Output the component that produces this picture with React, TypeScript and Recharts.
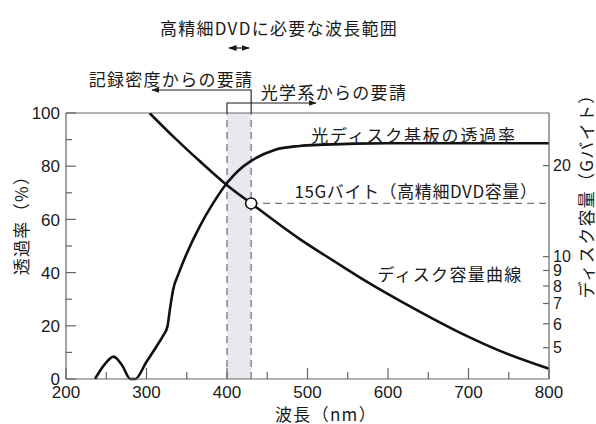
import React from 'react';
import {
  ComposedChart,
  Line,
  XAxis,
  YAxis,
  ReferenceArea,
  ReferenceLine,
  ReferenceDot
} from 'recharts';

// transmittance of the disk substrate (%)
const TRANS_NM = [236, 248, 259, 270, 280, 286, 300, 313, 321, 326, 329, 333, 340, 350, 366, 383, 400, 415, 430, 460, 490, 520, 560, 600, 700, 800];
const TRANS_PCT = [0, 5.5, 8.4, 5, 0, 0, 6.5, 12.5, 16.5, 19.7, 26, 33.5, 39.7, 47.2, 57.3, 66.2, 73.7, 78.6, 82.0, 86.2, 87.6, 88.1, 88.5, 88.6, 88.6, 88.6];

// disk capacity curve (G byte)
const CAP_NM = [304, 335, 366, 397, 430, 490, 532, 573, 615, 656, 697, 739, 800];
const CAP_G = [29.8, 24.7, 20.7, 17.5, 15.0, 11.45, 9.7, 8.28, 7.14, 6.23, 5.48, 4.88, 4.26];

const X_TICKS = [200, 250, 300, 350, 400, 450, 500, 550, 600, 650, 700, 750, 800];
const LEFT_TICKS = [0, 10, 20, 30, 40, 50, 60, 70, 80, 90, 100];
const RIGHT_TICKS = [5, 6, 7, 8, 9, 10, 20];

const BAND = [400, 430];
const DVD_CAP = 15;

const W = 596;
const H = 424;
const PLOT = { left: 66, right: 549, top: 113, bottom: 379 };
const X_DOMAIN = [200, 800];

const transData = TRANS_NM.map((x, i) => ({ x, v: TRANS_PCT[i] }));
const capData = CAP_NM.map((x, i) => ({ x, v: CAP_G[i] }));

const nmToPx = (nm: number) =>
  PLOT.left + ((nm - X_DOMAIN[0]) / (X_DOMAIN[1] - X_DOMAIN[0])) * (PLOT.right - PLOT.left);

const NUM_FONT = '"Liberation Sans", Arial, sans-serif';
const JP_FONT = '"Noto Sans CJK JP", "Noto Sans", sans-serif';
const AXIS = '#666';
const INK = '#1a1a1a';

const LeftTick = ({ x, y, payload }: any) => {
  const major = payload.value % 20 === 0;
  return (
    <g>
      <line x1={x} x2={x + (major ? 10 : 6)} y1={y} y2={y} stroke={AXIS} strokeWidth={1.2} />
      {major && (
        <text x={x - 6} y={y} dy="0.36em" textAnchor="end" fontSize={17} fontFamily={NUM_FONT} fill={INK}>
          {payload.value}
        </text>
      )}
    </g>
  );
};

const BottomTick = ({ x, y, payload }: any) => {
  const major = payload.value % 100 === 0;
  return (
    <g>
      <line x1={x} x2={x} y1={y} y2={y - (major ? 11 : 7)} stroke={AXIS} strokeWidth={1.2} />
      {major && (
        <text x={x} y={y + 6} dy="0.75em" textAnchor="middle" fontSize={17} fontFamily={NUM_FONT} fill={INK}>
          {payload.value}
        </text>
      )}
    </g>
  );
};

const RightTick = ({ x, y, payload }: any) => (
  <g>
    <line x1={x} x2={x - 6} y1={y} y2={y} stroke={AXIS} strokeWidth={1.2} />
    <text x={x + 4} y={y} dy="0.36em" textAnchor="start" fontSize={16} fontFamily={NUM_FONT} fill={INK}>
      {payload.value}
    </text>
  </g>
);

const jp = { fontFamily: JP_FONT, fontSize: 17, fill: INK, letterSpacing: 1.3 } as const;

const Annotations = () => {
  const xA = nmToPx(BAND[0]);
  const xB = nmToPx(BAND[1]);
  return (
    <svg width={W} height={H} style={{ position: 'absolute', left: 0, top: 0, pointerEvents: 'none' }}>
      <defs>
        <marker id="ah" viewBox="0 0 10 10" refX="9" refY="5" markerWidth="7" markerHeight="7" orient="auto-start-reverse">
          <path d="M0,1.5 L10,5 L0,8.5 z" fill={INK} />
        </marker>
      </defs>
      <text x={279} y={27} dominantBaseline="central" textAnchor="middle" {...jp}>
        高精細DVDに必要な波長範囲
      </text>
      <line x1={xA + 2} x2={xB - 2} y1={48} y2={48} stroke={INK} strokeWidth={1.2} markerStart="url(#ah)" markerEnd="url(#ah)" />

      <text x={171} y={78} dominantBaseline="central" textAnchor="middle" {...jp}>
        記録密度からの要請
      </text>
      <polyline points={`${xB},${PLOT.top} ${xB},90 152,90`} fill="none" stroke={INK} strokeWidth={1.1} markerEnd="url(#ah)" />

      <text x={334} y={91} dominantBaseline="central" textAnchor="middle" {...jp}>
        光学系からの要請
      </text>
      <polyline points={`${xA},${PLOT.top} ${xA},103 316,103`} fill="none" stroke={INK} strokeWidth={1.1} markerEnd="url(#ah)" />

      <text x={414} y={134} dominantBaseline="central" textAnchor="middle" {...jp} letterSpacing={1.8}>
        光ディスク基板の透過率
      </text>
      <text x={416} y={190} dominantBaseline="central" textAnchor="middle" {...jp} letterSpacing={0.6}>
        15Gバイト（高精細DVD容量）
      </text>
      <text x={450} y={273} dominantBaseline="central" textAnchor="middle" {...jp}>
        ディスク容量曲線
      </text>

      <text x={326} y={413} dominantBaseline="central" textAnchor="middle" {...jp}>
        波長（nm）
      </text>
      <text transform="translate(20,221) rotate(-90)" dominantBaseline="central" textAnchor="middle" {...jp}>
        透過率（%）
      </text>
      <text transform="translate(585,192) rotate(-90)" dominantBaseline="central" textAnchor="middle" {...jp}>
        ディスク容量（Gバイト）
      </text>
    </svg>
  );
};

export default function App() {
  return (
    <div style={{ position: 'relative', width: W, height: H, background: '#fff' }}>
      <style>{'body{margin:0;}'}</style>
      <ComposedChart width={W} height={H} margin={{ top: PLOT.top, right: 0, bottom: 0, left: 0 }}>
        <XAxis
          dataKey="x"
          type="number"
          domain={X_DOMAIN}
          ticks={X_TICKS}
          height={H - PLOT.bottom}
          tickSize={0}
          tickMargin={0}
          tickLine={false}
          tick={<BottomTick />}
          axisLine={{ stroke: AXIS, strokeWidth: 1.2 }}
          allowDataOverflow
        />
        <YAxis
          yAxisId="left"
          domain={[0, 100]}
          ticks={LEFT_TICKS}
          width={PLOT.left}
          tickSize={0}
          tickMargin={0}
          tickLine={false}
          tick={<LeftTick />}
          axisLine={{ stroke: AXIS, strokeWidth: 1.2 }}
          interval={0}
        />
        <YAxis
          yAxisId="right"
          orientation="right"
          scale="log"
          domain={[3.94, 29.85]}
          ticks={RIGHT_TICKS}
          width={W - PLOT.right}
          tickSize={0}
          tickMargin={0}
          tickLine={false}
          tick={<RightTick />}
          axisLine={{ stroke: AXIS, strokeWidth: 1.2 }}
          interval={0}
          allowDataOverflow
        />
        <ReferenceArea
          yAxisId="left"
          x1={BAND[0]}
          x2={BAND[1]}
          y1={0}
          y2={100}
          fill="#e7e9ee"
          fillOpacity={1}
          stroke="none"
        />
        <ReferenceLine yAxisId="left" x={BAND[0]} stroke="#777" strokeWidth={1.3} strokeDasharray="7 5" />
        <ReferenceLine yAxisId="left" x={BAND[1]} stroke="#777" strokeWidth={1.3} strokeDasharray="7 5" />
        <ReferenceLine yAxisId="left" y={100} stroke={AXIS} strokeWidth={1.2} />
        <ReferenceLine
          yAxisId="right"
          segment={[{ x: BAND[1], y: DVD_CAP }, { x: X_DOMAIN[1], y: DVD_CAP }]}
          stroke="#777"
          strokeWidth={1.3}
          strokeDasharray="7 5"
        />
        <Line
          yAxisId="left"
          data={transData}
          dataKey="v"
          type="monotone"
          stroke="#111"
          strokeWidth={2.6}
          dot={false}
          isAnimationActive={false}
        />
        <Line
          yAxisId="right"
          data={capData}
          dataKey="v"
          type="monotone"
          stroke="#111"
          strokeWidth={2.6}
          dot={false}
          isAnimationActive={false}
        />
        <ReferenceDot yAxisId="right" x={BAND[1]} y={DVD_CAP} r={5.5} fill="#fff" stroke="#111" strokeWidth={1.5} />
      </ComposedChart>
      <Annotations />
    </div>
  );
}
